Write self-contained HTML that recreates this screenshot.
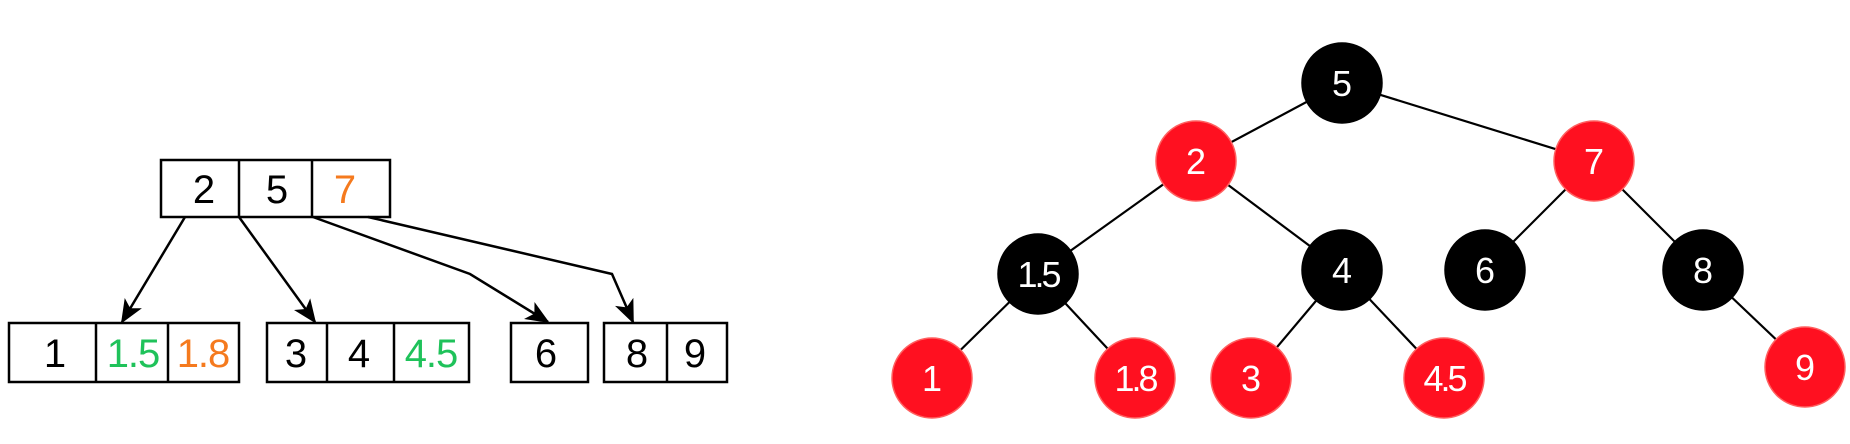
<!DOCTYPE html>
<html><head><meta charset="utf-8"><style>html,body{margin:0;padding:0;background:#fff;}svg{display:block}</style></head>
<body>
<svg width="1850" height="444" viewBox="0 0 1850 444" xmlns="http://www.w3.org/2000/svg" font-family="Liberation Sans, sans-serif">
<defs>
<marker id="b" markerWidth="26" markerHeight="24" refX="22" refY="12" orient="auto" markerUnits="userSpaceOnUse"><path d="M0,2 L24,12 L0,22 L6,12 Z" fill="#000"/></marker></defs>
<g fill="none" stroke="#000" stroke-width="2.5">
<rect x="161" y="160" width="229" height="57"/><line x1="239" y1="160" x2="239" y2="217"/><line x1="312" y1="160" x2="312" y2="217"/>
<rect x="9" y="323" width="230" height="59"/><line x1="96" y1="323" x2="96" y2="382"/><line x1="168" y1="323" x2="168" y2="382"/>
<rect x="267" y="323" width="202" height="59"/><line x1="327" y1="323" x2="327" y2="382"/><line x1="394" y1="323" x2="394" y2="382"/>
<rect x="511" y="323" width="77" height="59"/>
<rect x="604" y="323" width="123" height="59"/><line x1="667" y1="323" x2="667" y2="382"/>
<line x1="185" y1="217" x2="122" y2="322" marker-end="url(#b)"/>
<line x1="239" y1="217" x2="315" y2="322" marker-end="url(#b)"/>
<polyline points="313,217 470,274 548,322" marker-end="url(#b)"/>
<polyline points="368,217 612,274 633,322" marker-end="url(#b)"/>
</g>
<g font-size="40" text-anchor="middle">
<text x="204" y="203">2</text><text x="277" y="203">5</text><text x="345" y="203" fill="#f57a1e">7</text>
<text x="55" y="367">1</text><text x="133" y="367" fill="#1fc25a" letter-spacing="-1">1.5</text><text x="203" y="367" fill="#f57a1e" letter-spacing="-1">1.8</text>
<text x="296" y="367">3</text><text x="359" y="367">4</text><text x="431" y="367" fill="#1fc25a" letter-spacing="-1">4.5</text>
<text x="546" y="367">6</text><text x="637" y="367">8</text><text x="695" y="367">9</text>
</g>
<g stroke="#000" stroke-width="2.2">
<line x1="1342" y1="83" x2="1196" y2="161"/><line x1="1342" y1="83" x2="1594" y2="161"/>
<line x1="1196" y1="161" x2="1038" y2="274"/><line x1="1196" y1="161" x2="1342" y2="270"/>
<line x1="1594" y1="161" x2="1485" y2="270"/><line x1="1594" y1="161" x2="1703" y2="270"/>
<line x1="1038" y1="274" x2="932" y2="378"/><line x1="1038" y1="274" x2="1135" y2="378"/>
<line x1="1342" y1="270" x2="1251" y2="378"/><line x1="1342" y1="270" x2="1444" y2="378"/>
<line x1="1703" y1="270" x2="1805" y2="367"/>
</g>
<g stroke-width="1.5">
<circle cx="1342" cy="83" r="40" fill="#000" stroke="#000"/>
<circle cx="1196" cy="161" r="40" fill="#ff1020" stroke="#ff6060"/>
<circle cx="1594" cy="161" r="40" fill="#ff1020" stroke="#ff6060"/>
<circle cx="1038" cy="274" r="40" fill="#000" stroke="#000"/>
<circle cx="1342" cy="270" r="40" fill="#000" stroke="#000"/>
<circle cx="1485" cy="270" r="40" fill="#000" stroke="#000"/>
<circle cx="1703" cy="270" r="40" fill="#000" stroke="#000"/>
<circle cx="932" cy="378" r="40" fill="#ff1020" stroke="#ff6060"/>
<circle cx="1135" cy="378" r="40" fill="#ff1020" stroke="#ff6060"/>
<circle cx="1251" cy="378" r="40" fill="#ff1020" stroke="#ff6060"/>
<circle cx="1444" cy="378" r="40" fill="#ff1020" stroke="#ff6060"/>
<circle cx="1805" cy="367" r="40" fill="#ff1020" stroke="#ff6060"/>
</g>
<g font-size="36" fill="#fff" text-anchor="middle">
<text x="1342" y="96">5</text><text x="1196" y="174">2</text><text x="1594" y="174">7</text>
<text x="1038" y="287" letter-spacing="-3">1.5</text><text x="1342" y="283">4</text><text x="1485" y="283">6</text><text x="1703" y="283">8</text>
<text x="932" y="391">1</text><text x="1135" y="391" letter-spacing="-3">1.8</text><text x="1251" y="391">3</text><text x="1444" y="391" letter-spacing="-3">4.5</text><text x="1805" y="380">9</text>
</g>
</svg>
</body></html>
